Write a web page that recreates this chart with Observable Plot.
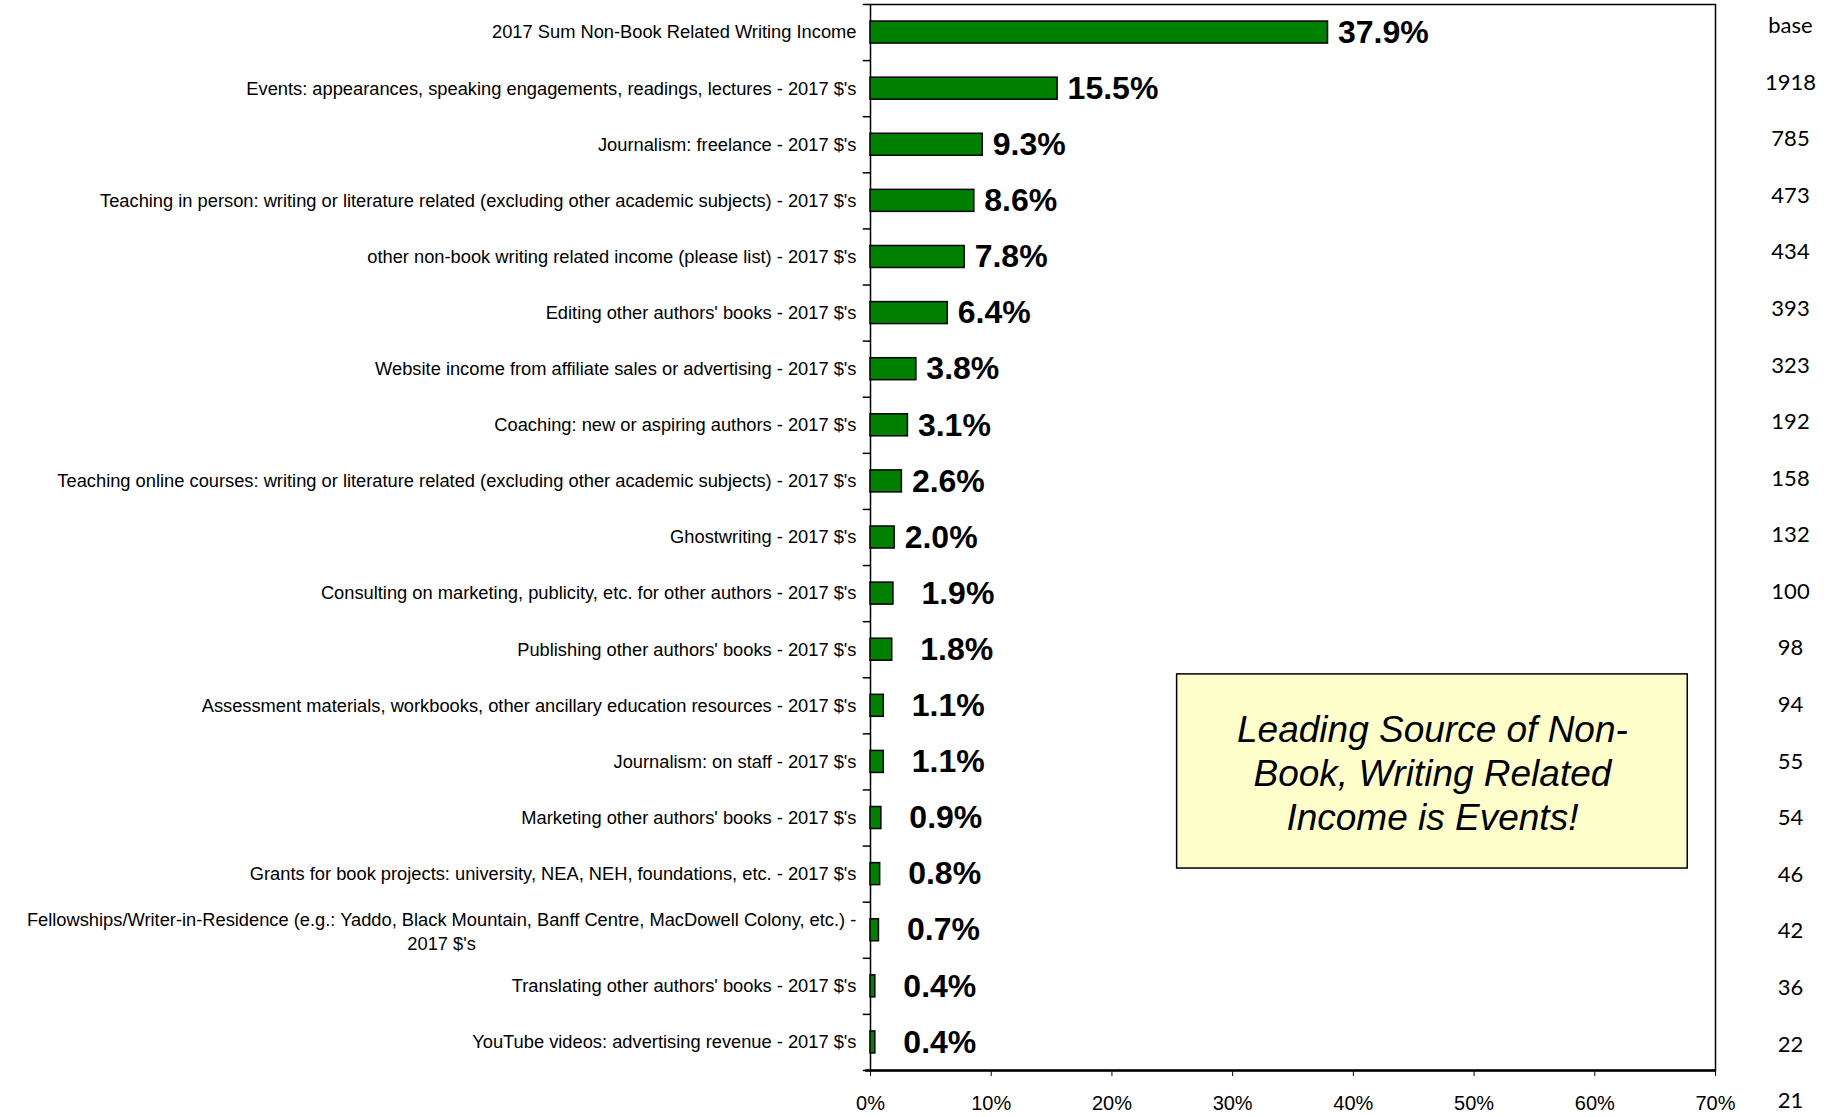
<!DOCTYPE html>
<html><head><meta charset="utf-8">
<script src="https://cdn.jsdelivr.net/npm/d3@7"></script>
<script src="https://cdn.jsdelivr.net/npm/@observablehq/plot@0.6"></script>
<style>html,body{margin:0;padding:0;background:#fff;overflow:hidden}</style>
</head><body><div id="chart"></div>
<script>
// ---- data ----
const categories = [
  "2017 Sum Non-Book Related Writing Income",
  "Events: appearances, speaking engagements, readings, lectures - 2017 $'s",
  "Journalism: freelance - 2017 $'s",
  "Teaching in person: writing or literature related (excluding other academic subjects) - 2017 $'s",
  "other non-book writing related income (please list) - 2017 $'s",
  "Editing other authors' books - 2017 $'s",
  "Website income from affiliate sales or advertising - 2017 $'s",
  "Coaching: new or aspiring authors - 2017 $'s",
  "Teaching online courses: writing or literature related (excluding other academic subjects) - 2017 $'s",
  "Ghostwriting - 2017 $'s",
  "Consulting on marketing, publicity, etc. for other authors - 2017 $'s",
  "Publishing other authors' books - 2017 $'s",
  "Assessment materials, workbooks, other ancillary education resources - 2017 $'s",
  "Journalism: on staff - 2017 $'s",
  "Marketing other authors' books - 2017 $'s",
  "Grants for book projects: university, NEA, NEH, foundations, etc. - 2017 $'s",
  "Fellowships/Writer-in-Residence (e.g.: Yaddo, Black Mountain, Banff Centre, MacDowell Colony, etc.) - 2017 $'s",
  "Translating other authors' books - 2017 $'s",
  "YouTube videos: advertising revenue - 2017 $'s"
];
const shares = [37.9, 15.5, 9.3, 8.6, 7.8, 6.4, 3.8, 3.1, 2.6, 2.0, 1.9, 1.8, 1.1, 1.1, 0.9, 0.8, 0.7, 0.4, 0.4];
const baseHeader = "base";
const baseCounts = [1918, 785, 473, 434, 393, 323, 192, 158, 132, 100, 98, 94, 55, 54, 46, 42, 36, 22, 21];
const xTicks = [0, 10, 20, 30, 40, 50, 60, 70];
const xDomain = [0, 70];
const annotationLines = ["Leading Source of Non-", "Book, Writing Related", "Income is Events!"];
// annotation box placement (x in %, y in row units)
const annotation = {x1: 25.4, x2: 67.7, y1: 11.44, y2: 14.9, lines: annotationLines};

// ---- layout / style ----
const W = 1826, H = 1117;
const mL = 870, mR = 111, mT = 4, mB = 47;
const n = categories.length;
const labelFontSize = 18.3;
const labelFont = "'Liberation Sans', Arial, sans-serif";
const labelGap = 14;
const maxLabelWidth = mL - labelGap - 2;
// the "base" column uses its own slightly wider row pitch (in row units)
const baseStep = 1.0084, baseOffset = -0.115;

const ctx = document.createElement("canvas").getContext("2d");
ctx.font = `${labelFontSize}px ${labelFont}`;
const measure = s => ctx.measureText(s).width;
function wrap(s) {
  if (measure(s) <= maxLabelWidth) return [s];
  const words = s.split(" ");
  const lines = [];
  let cur = "";
  for (const w of words) {
    const t = cur ? cur + " " + w : w;
    if (measure(t) > maxLabelWidth && cur) { lines.push(cur); cur = w; } else cur = t;
  }
  if (cur) lines.push(cur);
  return lines;
}

const rows = categories.map((c, i) => {
  const lines = wrap(c);
  return {label: c, value: shares[i], i, lines, w: d3.max(lines, measure)};
});
const singleRows = rows.filter(r => r.lines.length === 1);
const wrappedRows = rows.filter(r => r.lines.length > 1);
const baseRows = [baseHeader, ...baseCounts].map((t, i) => ({t: String(t), i}));

const plot = Plot.plot({
  width: W, height: H,
  marginLeft: mL, marginRight: mR, marginTop: mT, marginBottom: mB,
  style: {fontFamily: labelFont, fontSize: "20px", background: "white", color: "black", overflow: "visible"},
  x: {domain: xDomain, ticks: xTicks, tickFormat: d => d + "%", tickSize: 6, tickPadding: 19, label: null},
  y: {domain: [-0.5, n - 0.5], reverse: true, axis: null},
  marks: [
    Plot.rect([annotation], {x1: "x1", x2: "x2", y1: "y1", y2: "y2", fill: "#FFFFCC", stroke: "#000", strokeWidth: 1.5}),
    Plot.text([annotation], {x: d => (d.x1 + d.x2) / 2, y: d => (d.y1 + d.y2) / 2, text: d => d.lines.join("\n"),
      fontSize: 37, fontStyle: "italic", lineHeight: 1.19, textAnchor: "middle", fill: "#000"}),
    Plot.frame({stroke: "#000", strokeWidth: 1.5}),
    Plot.ruleY(d3.range(n + 1).map(i => i - 0.5), {x1: -0.6, x2: 0, stroke: "#000", strokeWidth: 1.5}),
    Plot.ruleY([n - 0.5], {x1: -0.4, x2: xDomain[1], stroke: "#000", strokeWidth: 2.5}),
    Plot.rectX(rows, {x: "value", y1: d => d.i - 0.196, y2: d => d.i + 0.196, fill: "#008000", stroke: "#000", strokeWidth: 1.5}),
    Plot.text(rows.filter(r => r.value >= 2), {x: "value", y: "i", text: d => d.value.toFixed(1) + "%",
      textAnchor: "start", dx: 10, fontSize: 32, fontWeight: "bold", fill: "#000"}),
    Plot.text(rows.filter(r => r.value < 2), {x: "value", y: "i", text: d => d.value.toFixed(1) + "%",
      textAnchor: "start", dx: 28, fontSize: 32, fontWeight: "bold", fill: "#000"}),
    Plot.text(singleRows, {frameAnchor: "left", y: "i", text: "label", textAnchor: "end", dx: -labelGap,
      fontSize: labelFontSize, fill: "#000"}),
    ...wrappedRows.map(r => Plot.text([r], {frameAnchor: "left", y: "i", text: d => d.lines.join("\n"),
      textAnchor: "middle", dx: -labelGap - r.w / 2, lineHeight: 1.3, fontSize: labelFontSize, fill: "#000"})),
    Plot.text(baseRows, {frameAnchor: "right", y: d => d.i * baseStep + baseOffset, text: "t", textAnchor: "middle", dx: 75,
      fontSize: 22, fontFamily: "Lato, 'Open Sans', sans-serif", fill: "#000"})
  ]
});
document.getElementById("chart").appendChild(plot);
</script>
</body></html>
